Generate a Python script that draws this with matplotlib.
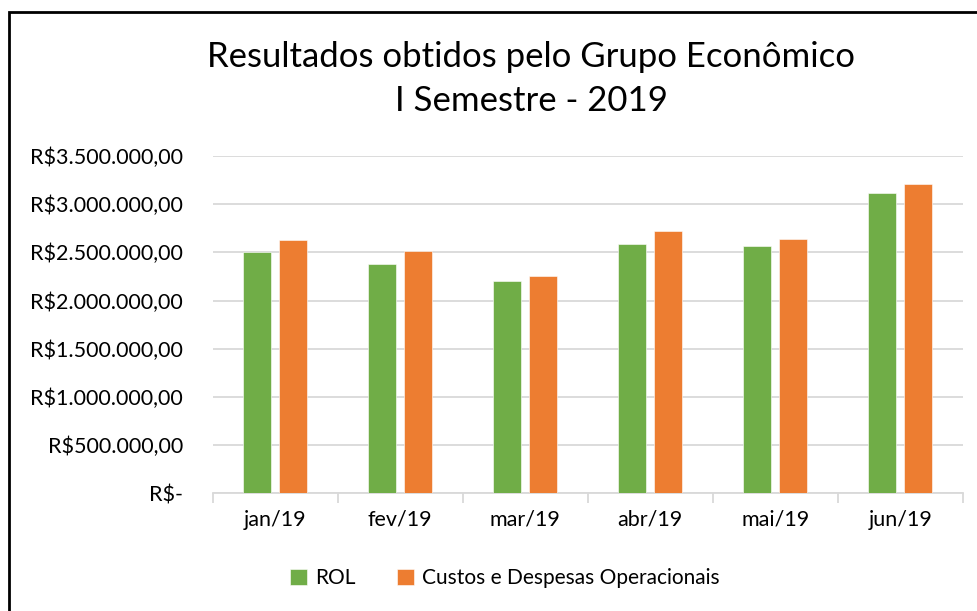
import numpy as np
import matplotlib
matplotlib.use('Agg')
import matplotlib.pyplot as plt
from matplotlib.patches import Rectangle
from matplotlib.ticker import FuncFormatter

plt.rcParams['font.family'] = ['Lato', 'DejaVu Sans']

# data (R$)
months = ['jan/19', 'fev/19', 'mar/19', 'abr/19', 'mai/19', 'jun/19']
rol = [2505000, 2380000, 2204000, 2587000, 2566000, 3114000]
custos = [2630000, 2518000, 2256000, 2725000, 2642000, 3214000]
series_names = ['ROL', 'Custos e Despesas Operacionais']
green = '#70AD47'
orange = '#ED7D31'

def brl(v, pos=None):
    if v == 0:
        return 'R$-'
    s = f'{v:,.2f}'  # 3,500,000.00
    s = s.replace(',', 'X').replace('.', ',').replace('X', '.')
    return 'R$' + s

W, H = 977, 611
fig = plt.figure(figsize=(W / 100, H / 100), dpi=100)
ax = fig.add_axes([212.7 / W, 1 - 493.3 / H, 750 / W, (493.3 - 156) / H])

x = np.arange(len(months))
bw = 0.222
ax.bar(x - 0.143, rol, bw, color=green, edgecolor='white', linewidth=0.4, label=series_names[0], zorder=3)
ax.bar(x + 0.143, custos, bw, color=orange, edgecolor='white', linewidth=0.4, label=series_names[1], zorder=3)

ax.set_xlim(-0.5, len(months) - 0.5)
ax.set_ylim(0, 3500000)
ax.set_yticks(np.arange(0, 3500001, 500000))
ax.yaxis.set_major_formatter(FuncFormatter(brl))
ax.grid(axis='y', color='#D9D9D9', lw=1.3, zorder=0)
ax.set_axisbelow(True)
for s in ['top', 'right', 'left']:
    ax.spines[s].set_visible(False)
ax.spines['bottom'].set_color('#D9D9D9')
ax.spines['bottom'].set_linewidth(1.3)

ax.set_xticks(x)
ax.set_xticklabels(months)
ax.set_xticks(np.arange(-0.5, len(months)), minor=True)
ax.tick_params(axis='x', which='major', length=0, pad=12, labelsize=15.5)
ax.tick_params(axis='x', which='minor', length=7, color='#D9D9D9', width=1.3)
ax.tick_params(axis='y', length=0, pad=21.5, labelsize=15.5)

fig.text(531 / W, 1 - 57 / H, 'Resultados obtidos pelo Grupo Econômico', ha='center', va='center', fontsize=25)
fig.text(531 / W, 1 - 101 / H, 'I Semestre - 2019', ha='center', va='center', fontsize=25)

fig.legend(loc='center', bbox_to_anchor=(505 / W, 1 - 578 / H), ncol=2, frameon=False,
           fontsize=15, handlelength=0.8, handleheight=0.8, handletextpad=0.4, columnspacing=2.0)

# chart border (cropped on the right and bottom in the reference)
fig.patches.append(Rectangle((9 / W, -0.05), 1.1, 1 - 12 / H + 0.05, transform=fig.transFigure,
                             fill=False, edgecolor='black', lw=2))

fig.savefig('out.png', dpi=100)
